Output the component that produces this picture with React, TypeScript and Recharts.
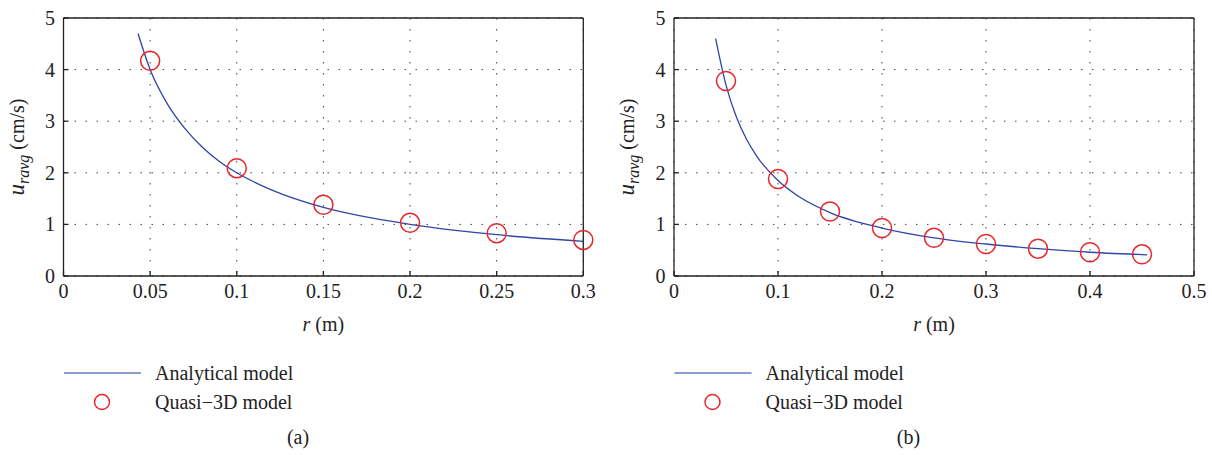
import { ComposedChart, Line, Scatter, XAxis, YAxis, CartesianGrid, Label } from 'recharts';

// panel (a)
const curveRA = [0.043, 0.05, 0.06, 0.07, 0.08, 0.09, 0.1, 0.12, 0.15, 0.18, 0.2, 0.25, 0.3];
const curveUA = [4.7, 4.0, 3.33, 2.86, 2.5, 2.22, 2.0, 1.67, 1.33, 1.11, 1.0, 0.8, 0.67];
const pointRA = [0.05, 0.1, 0.15, 0.2, 0.25, 0.3];
const pointUA = [4.17, 2.09, 1.38, 1.03, 0.83, 0.7];
const xTicksA = [0, 0.05, 0.1, 0.15, 0.2, 0.25, 0.3];

// panel (b)
const curveRB = [0.04, 0.05, 0.06, 0.07, 0.08, 0.1, 0.12, 0.15, 0.2, 0.25, 0.3, 0.35, 0.4, 0.455];
const curveUB = [4.6, 3.7, 3.08, 2.64, 2.31, 1.85, 1.54, 1.23, 0.93, 0.74, 0.62, 0.53, 0.46, 0.41];
const pointRB = [0.05, 0.1, 0.15, 0.2, 0.25, 0.3, 0.35, 0.4, 0.45];
const pointUB = [3.78, 1.88, 1.25, 0.93, 0.74, 0.62, 0.53, 0.46, 0.42];
const xTicksB = [0, 0.1, 0.2, 0.3, 0.4, 0.5];

const yTicks = [0, 1, 2, 3, 4, 5];
const seriesNames = ['Analytical model', 'Quasi\u22123D model'];

const FONT = "'Liberation Serif', 'Times New Roman', serif";
const FS = 20;
const AXIS = '#222';
const BLUE = '#2f46a8';
const RED = '#e8262b';

const zip = (rs: number[], us: number[]) => rs.map((r, i) => ({ r, u: us[i] }));

function XTick(props: any) {
  const { x, y, payload } = props;
  return (
    <text x={x} y={y + 22} textAnchor="middle" style={{ fontFamily: FONT, fontSize: FS, fill: '#222' }}>
      {payload.value}
    </text>
  );
}

function YTick(props: any) {
  const { x, y, payload } = props;
  return (
    <text x={x - 8.5} y={y + 7} textAnchor="end" style={{ fontFamily: FONT, fontSize: FS, fill: '#222' }}>
      {payload.value}
    </text>
  );
}

function Circle(props: any) {
  return <circle cx={props.cx} cy={props.cy} r={9.5} fill="none" stroke={RED} strokeWidth={1.5} />;
}

function Panel({ curve, points, xTicks, xMax, left, right, tag }: any) {
  const W = 606;
  return (
    <div style={{ position: 'relative', width: W, height: 455 }}>
      <ComposedChart width={W} height={340} margin={{ top: 17, right: right, bottom: 34, left: left }}>
        <CartesianGrid stroke="#444" strokeDasharray="1.5 9.5" />
        <XAxis
          dataKey="r"
          type="number"
          domain={[0, xMax]}
          ticks={xTicks}
          interval={0}
          height={30}
          tick={<XTick />}
          tickSize={-5}
          tickMargin={5}
          axisLine={{ stroke: AXIS, strokeWidth: 1.3 }}
          tickLine={{ stroke: AXIS, strokeWidth: 1.3 }}
        >
          <Label
            content={(p: any) => {
              const vb = p.viewBox;
              return (
                <text x={vb.x + vb.width / 2} y={vb.y + 55} textAnchor="middle" style={{ fontFamily: FONT, fontSize: FS, fill: '#222' }}>
                  <tspan fontStyle="italic">r</tspan> (m)
                </text>
              );
            }}
          />
        </XAxis>
        <XAxis
          xAxisId="top"
          orientation="top"
          type="number"
          domain={[0, xMax]}
          ticks={xTicks}
          interval={0}
          height={1}
          tick={false}
          tickSize={-5}
          axisLine={{ stroke: AXIS, strokeWidth: 1.3 }}
          tickLine={{ stroke: AXIS, strokeWidth: 1.3 }}
        />
        <YAxis
          type="number"
          domain={[0, 5]}
          ticks={yTicks}
          interval={0}
          width={40}
          tick={<YTick />}
          tickSize={-5}
          tickMargin={5}
          axisLine={{ stroke: AXIS, strokeWidth: 1.3 }}
          tickLine={{ stroke: AXIS, strokeWidth: 1.3 }}
        >
          <Label
            content={(p: any) => {
              const vb = p.viewBox;
              const cx = vb.x + vb.width - 40;
              const cy = vb.y + vb.height / 2;
              return (
                <text
                  x={cx}
                  y={cy}
                  transform={`rotate(-90 ${cx} ${cy})`}
                  textAnchor="middle"
                  style={{ fontFamily: FONT, fontSize: FS, fill: '#222' }}
                >
                  <tspan fontStyle="italic" fontSize={23}>u</tspan>
                  <tspan fontStyle="italic" fontSize={16} dy={5}>ravg</tspan>
                  <tspan dy={-5}> (cm/s)</tspan>
                </text>
              );
            }}
          />
        </YAxis>
        <YAxis
          yAxisId="right"
          orientation="right"
          type="number"
          domain={[0, 5]}
          ticks={yTicks}
          interval={0}
          width={1}
          tick={false}
          tickSize={-5}
          axisLine={{ stroke: AXIS, strokeWidth: 1.3 }}
          tickLine={{ stroke: AXIS, strokeWidth: 1.3 }}
        />
        <Line
          data={curve}
          dataKey="u"
          name={seriesNames[0]}
          type="monotone"
          stroke={BLUE}
          strokeWidth={1.3}
          dot={false}
          activeDot={false}
          isAnimationActive={false}
        />
        <Scatter data={points} dataKey="u" name={seriesNames[1]} shape={<Circle />} isAnimationActive={false} />
      </ComposedChart>
      <svg width={W} height={115} style={{ position: 'absolute', left: 0, top: 340, fontFamily: FONT, fontSize: FS }}>
        <line x1={left + 40.5} x2={left + 117.5} y1={33} y2={33} stroke="#6a7bc2" strokeWidth={1.5} />
        <text x={left + 131.5} y={40} fill="#222">{seriesNames[0]}</text>
        <circle cx={left + 78.5} cy={62} r={7.5} fill="none" stroke={RED} strokeWidth={1.5} />
        <text x={left + 131.5} y={69} fill="#222">{seriesNames[1]}</text>
        <text x={left + 274.5} y={104} textAnchor="middle" fill="#222">{tag}</text>
      </svg>
    </div>
  );
}

export default function App() {
  return (
    <div style={{ position: 'absolute', left: 0, top: 0, width: 1212, height: 455, display: 'flex', background: '#fff' }}>
      <Panel curve={zip(curveRA, curveUA)} points={zip(pointRA, pointUA)} xTicks={xTicksA} xMax={0.3} left={23.5} right={21.7} tag="(a)" />
      <Panel curve={zip(curveRB, curveUB)} points={zip(pointRB, pointUB)} xTicks={xTicksB} xMax={0.5} left={28} right={17} tag="(b)" />
    </div>
  );
}
